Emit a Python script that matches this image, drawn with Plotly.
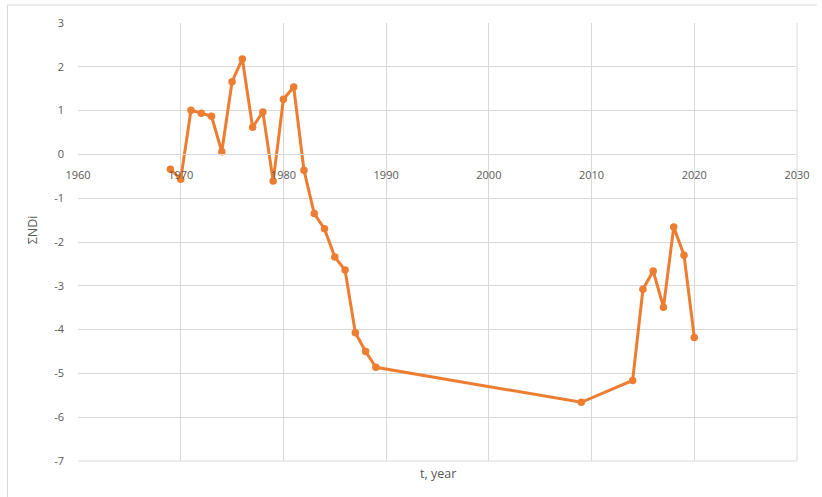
import plotly.graph_objects as go

# Annual values of the cumulative index
years = [1969, 1970, 1971, 1972, 1973, 1974, 1975, 1976, 1977, 1978, 1979,
         1980, 1981, 1982, 1983, 1984, 1985, 1986, 1987, 1988, 1989,
         2009, 2014, 2015, 2016, 2017, 2018, 2019, 2020]
sum_ndi = [-0.34, -0.57, 1.01, 0.94, 0.87, 0.06, 1.66, 2.18, 0.62, 0.97, -0.61,
           1.26, 1.54, -0.36, -1.35, -1.70, -2.34, -2.64, -4.07, -4.50, -4.86,
           -5.66, -5.16, -3.08, -2.66, -3.49, -1.66, -2.30, -4.18]

x_ticks = [1960, 1970, 1980, 1990, 2000, 2010, 2020, 2030]
y_ticks = [3, 2, 1, 0, -1, -2, -3, -4, -5, -6, -7]

ORANGE = "#ED7D31"
GRID = "#D9D9D9"
TEXT = "#595959"
FONT = "Open Sans"

fig = go.Figure()
fig.add_trace(go.Scatter(
    x=years, y=sum_ndi, mode="lines+markers",
    line=dict(color=ORANGE, width=3),
    marker=dict(color=ORANGE, size=7.5),
    showlegend=False,
))

W, H = 822, 497
L, R, T, B = 78, 20, 23, 36
pw, ph = W - L - R, H - T - B

fig.update_layout(
    width=W, height=H,
    margin=dict(l=L, r=R, t=T, b=B, pad=0),
    paper_bgcolor="white", plot_bgcolor="white",
    font=dict(family=FONT, size=11, color=TEXT),
    xaxis=dict(
        range=[1960, 2030], tickvals=x_ticks, ticktext=[str(v) for v in x_ticks],
        showgrid=True, gridcolor=GRID, gridwidth=1,
        zeroline=False, showline=True, linecolor=GRID, linewidth=1,
        anchor="free", position=0.7, ticks="", ticklabelstandoff=10,
        mirror=False,
    ),
    yaxis=dict(
        range=[-7, 3], tickvals=y_ticks, ticktext=[str(v) for v in y_ticks],
        showgrid=True, gridcolor=GRID, gridwidth=1,
        zeroline=False, showline=False, ticks="", ticklabelstandoff=13,
    ),
    shapes=[
        # outer chart frame (top and left edges)
        dict(type="line", xref="paper", yref="paper",
             x0=(7 - L) / pw, x1=(W - L) / pw,
             y0=1 + (T - 5) / ph, y1=1 + (T - 5) / ph,
             line=dict(color=GRID, width=1)),
        dict(type="line", xref="paper", yref="paper",
             x0=(7 - L) / pw, x1=(7 - L) / pw,
             y0=1 + (T - 5) / ph, y1=-(H - T - ph) / ph - 0.01,
             line=dict(color=GRID, width=1)),
        # right and bottom edges of plot area
        dict(type="line", xref="paper", yref="paper", x0=1, x1=1, y0=0, y1=1,
             line=dict(color=GRID, width=1), layer="below"),
        dict(type="line", xref="paper", yref="paper", x0=0, x1=1, y0=0, y1=0,
             line=dict(color=GRID, width=1), layer="below"),
    ],
    annotations=[
        dict(text="t, year", xref="paper", yref="paper",
             x=(440 - L) / pw, y=1 - (473 - T) / ph,
             showarrow=False, font=dict(family=FONT, size=12.5, color=TEXT),
             xanchor="center", yanchor="middle"),
        dict(text="ΣNDi", xref="paper", yref="paper",
             x=(32 - L) / pw, y=1 - (230 - T) / ph, textangle=-90,
             showarrow=False, font=dict(family=FONT, size=12.5, color=TEXT),
             xanchor="center", yanchor="middle"),
    ],
)

fig.write_html("out.html")
